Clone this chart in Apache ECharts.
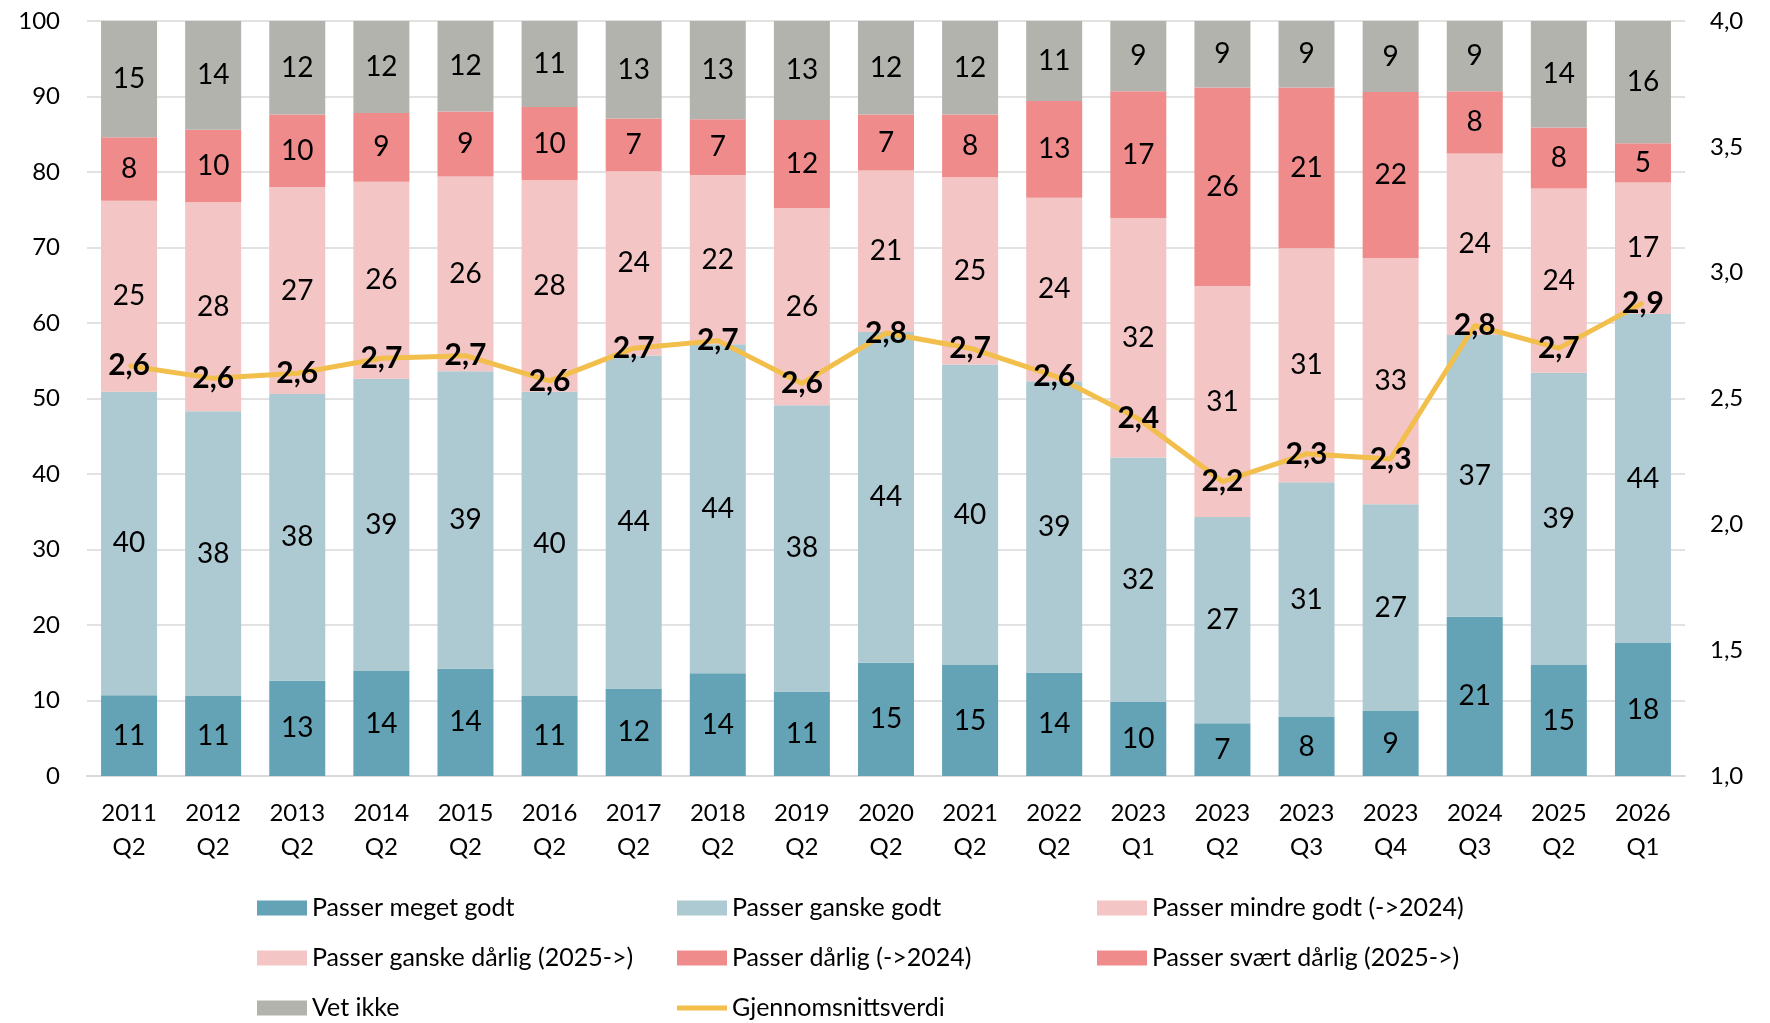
<!DOCTYPE html>
<html>
<head>
<meta charset="utf-8">
<script src="https://cdn.jsdelivr.net/npm/echarts@6/dist/echarts.min.js"></script>
<style>
  html, body { margin: 0; padding: 0; background: #fff; }
  #chart { width: 1770px; height: 1023px; }
</style>
</head>
<body>
<div id="chart"></div>
<script>
// kategorier (x-akse)
const categories = [
  '2011\nQ2', '2012\nQ2', '2013\nQ2', '2014\nQ2', '2015\nQ2', '2016\nQ2', '2017\nQ2',
  '2018\nQ2', '2019\nQ2', '2020\nQ2', '2021\nQ2', '2022\nQ2', '2023\nQ1', '2023\nQ2',
  '2023\nQ3', '2023\nQ4', '2024\nQ3', '2025\nQ2', '2026\nQ1'
]

// andeler i prosent, lest av figuren
const megetGodt = [10.7, 10.6, 12.6, 13.9, 14.2, 10.6, 11.6, 13.6, 11.2, 15.0, 14.7, 13.7, 9.8, 7.0, 7.8, 8.6, 21.1, 14.7, 17.6]
const ganskeGodt = [40.2, 37.7, 38.0, 38.7, 39.4, 40.3, 44.1, 43.6, 37.9, 43.8, 39.8, 38.6, 32.4, 27.3, 31.1, 27.4, 37.3, 38.7, 43.6]
const mindreGodt = [25.3, 27.7, 27.4, 26.1, 25.8, 28.0, 24.4, 22.4, 26.1, 21.4, 24.8, 24.3, 31.7, 30.6, 31.0, 32.6, 24.1, '-', '-']
const ganskeDarlig = ['-', '-', '-', '-', '-', '-', '-', '-', '-', '-', '-', '-', '-', '-', '-', '-', '-', 24.4, 17.4]
const darlig = [8.4, 9.6, 9.6, 9.1, 8.6, 9.7, 7.0, 7.4, 11.7, 7.4, 8.3, 12.8, 16.8, 26.3, 21.3, 22.0, 8.2, '-', '-']
const svaertDarlig = ['-', '-', '-', '-', '-', '-', '-', '-', '-', '-', '-', '-', '-', '-', '-', '-', '-', 8.1, 5.2]
const vetIkke = [15.4, 14.4, 12.4, 12.2, 12.0, 11.4, 12.9, 13.0, 13.1, 12.4, 12.4, 10.6, 9.3, 8.8, 8.8, 9.4, 9.3, 14.1, 16.2]
// gjennomsnitt (høyre akse)
const snitt = [2.63, 2.58, 2.60, 2.66, 2.67, 2.57, 2.70, 2.73, 2.56, 2.76, 2.70, 2.59, 2.42, 2.17, 2.28, 2.26, 2.79, 2.70, 2.88]

const FONT = 'Lato'
const comma = (v, d) => v.toFixed(d).replace('.', ',')

const barLabel = {
  show: true,
  position: 'inside',
  color: '#000',
  fontSize: 28,
  fontFamily: FONT,
  formatter: (p) => Math.round(p.value)
}

const bar = (name, data, color) => ({
  name,
  type: 'bar',
  stack: 'total',
  barWidth: 56,
  data,
  itemStyle: { color },
  label: barLabel,
  emphasis: { disabled: true }
})

const legendBase = {
  orient: 'vertical',
  top: 894,
  padding: 0,
  itemWidth: 50,
  itemHeight: 15,
  itemGap: 22,
  icon: 'rect',
  textStyle: { fontFamily: FONT, fontSize: 25, color: '#000', lineHeight: 28 }
}

const myChart = echarts.init(document.getElementById('chart'))
const option = {
  animation: false,
  textStyle: { fontFamily: FONT },
  grid: { left: 87, right: 85, top: 21, bottom: 247 },
  legend: [
    Object.assign({}, legendBase, {
      left: 257,
      data: ['Passer meget godt', 'Passer ganske dårlig (2025->)', 'Vet ikke']
    }),
    Object.assign({}, legendBase, {
      left: 677,
      data: [
        'Passer ganske godt',
        'Passer dårlig (->2024)',
        { name: 'Gjennomsnittsverdi', icon: 'path://M0,0 L50,0 L50,5 L0,5 Z' }
      ]
    }),
    Object.assign({}, legendBase, {
      left: 1097,
      data: ['Passer mindre godt (->2024)', 'Passer svært dårlig (2025->)']
    })
  ],
  xAxis: {
    type: 'category',
    data: categories,
    axisTick: { show: false },
    axisLine: { lineStyle: { color: '#d9d9d9', width: 2 } },
    axisLabel: { color: '#000', fontSize: 24, lineHeight: 34, margin: 20, interval: 0 }
  },
  yAxis: [
    {
      type: 'value',
      min: 0,
      max: 100,
      interval: 10,
      axisLabel: { color: '#000', fontSize: 24, margin: 27 },
      splitLine: { lineStyle: { color: '#d9d9d9', width: 1.5 } }
    },
    {
      type: 'value',
      min: 1,
      max: 4,
      interval: 0.5,
      position: 'right',
      axisLabel: { color: '#000', fontSize: 24, margin: 25, formatter: (v) => comma(v, 1) },
      splitLine: { show: false },
      axisLine: { show: false },
      axisTick: { show: false }
    }
  ],
  series: [
    bar('Passer meget godt', megetGodt, '#63a3b5'),
    bar('Passer ganske godt', ganskeGodt, '#adc9d2'),
    bar('Passer mindre godt (->2024)', mindreGodt, '#f4c5c5'),
    bar('Passer ganske dårlig (2025->)', ganskeDarlig, '#f4c5c5'),
    bar('Passer dårlig (->2024)', darlig, '#ef8b8a'),
    bar('Passer svært dårlig (2025->)', svaertDarlig, '#ef8b8a'),
    bar('Vet ikke', vetIkke, '#b3b3ae'),
    {
      name: 'Gjennomsnittsverdi',
      type: 'line',
      yAxisIndex: 1,
      data: snitt,
      symbol: 'circle',
      symbolSize: 2,
      itemStyle: { color: '#f2be4c' },
      lineStyle: { color: '#f2be4c', width: 5 },
      label: {
        show: true,
        position: 'inside',
        color: '#000',
        fontSize: 30,
        fontWeight: 'bold',
        fontFamily: FONT,
        formatter: (p) => comma(p.value, 1)
      },
      z: 5,
      emphasis: { disabled: true }
    }
  ]
}
myChart.setOption(option)
</script>
</body>
</html>
